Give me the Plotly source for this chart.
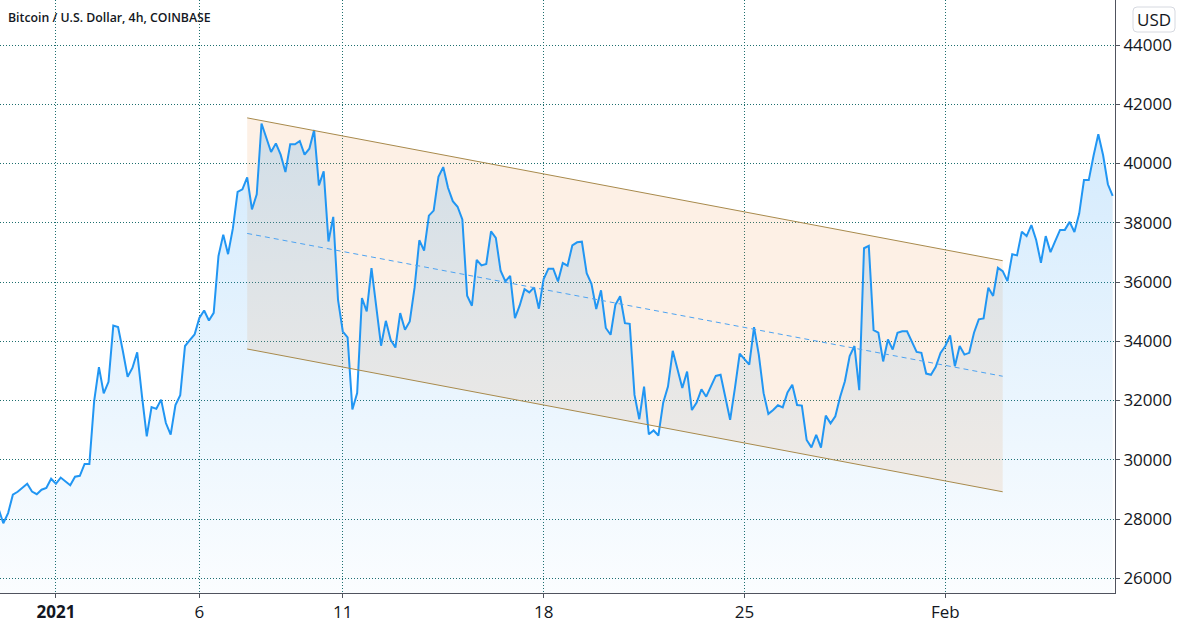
import pandas as pd
import plotly.graph_objects as go

# BTC/USD 4h closes, Coinbase, starting 2020-12-30 00:00 (UTC)
start_time = "2020-12-30 00:00"
close = [
    28350, 27860, 28200, 28820, 28920, 29070, 29190, 28930, 28840, 28990, 29050, 29360,
    29190, 29400, 29260, 29140, 29430, 29460, 29860, 29860, 31980, 33130, 32240, 32630,
    34530, 34480, 33670, 32800, 33100, 33630, 32150, 30790, 31780, 31720, 32030, 31240,
    30850, 31850, 32180, 33840, 34040, 34230, 34790, 35040, 34700, 34960, 36880, 37600,
    36940, 37800, 39040, 39130, 39530, 38450, 38960, 41350, 40870, 40390, 40680, 40300,
    39710, 40650, 40650, 40760, 40300, 40500, 41130, 39260, 39740, 37370, 38200, 35400,
    34330, 34130, 31700, 32250, 35460, 35010, 36470, 35180, 33850, 34690, 34050, 33790,
    34950, 34390, 34670, 35800, 37410, 37060, 38240, 38410, 39550, 39880, 39180, 38730,
    38540, 38110, 35540, 35200, 36750, 36560, 36610, 37710, 37490, 36380, 36020, 36210,
    34780, 35210, 35760, 35650, 35820, 35100, 36100, 36450, 36450, 36020, 36640, 36550,
    37240, 37340, 37360, 36300, 35940, 35090, 35720, 34450, 34220, 35230, 35520, 34610,
    34590, 32190, 31370, 32470, 30860, 30990, 30820, 31930, 32470, 33680, 33090, 32420,
    32980, 31680, 31930, 32380, 32130, 32510, 32830, 32870, 32130, 31350, 32420, 33580,
    33400, 33210, 34480, 33540, 32250, 31550, 31680, 31840, 31770, 32270, 32530, 31850,
    31830, 30670, 30420, 30840, 30410, 31490, 31230, 31470, 32120, 32650, 33500, 33840,
    32350, 37140, 37220, 34380, 34290, 33320, 34060, 33720, 34290, 34340, 34340, 33970,
    33640, 33610, 32910, 32870, 33140, 33610, 33840, 34200, 33160, 33840, 33550, 33610,
    34290, 34740, 34770, 35810, 35530, 36480, 36370, 36030, 36940, 36900, 37700, 37550,
    37920, 37420, 36650, 37550, 37010, 37390, 37760, 37760, 38030, 37690, 38310, 39440,
    39440, 40260, 40990, 40280, 39300, 38910,
]
times = pd.date_range(start_time, periods=len(close), freq="4h")

# parallel channel drawing
channel_x = ["2021-01-07 16:00", "2021-02-03 00:00"]
channel_upper = [41540, 36720]
channel_lower = [33740, 28920]
channel_mid = [37640, 32820]

tick_dates = ["2021-01-01", "2021-01-06", "2021-01-11", "2021-01-18", "2021-01-25", "2021-02-01"]
tick_text = ["<b>2021</b>", "6", "11", "18", "25", "Feb"]
price_ticks = list(range(26000, 44001, 2000))

BLUE = "#2196F3"
GRID = "#1d6e6e"
CHANNEL_LINE = "#a88a4c"
TEXT = "#131722"
FONT = "Open Sans"

fig = go.Figure()

# channel background
fig.add_trace(go.Scatter(
    x=[channel_x[0], channel_x[1], channel_x[1], channel_x[0], channel_x[0]],
    y=[channel_upper[0], channel_upper[1], channel_lower[1], channel_lower[0], channel_upper[0]],
    fill="toself", fillcolor="rgba(240,150,70,0.14)",
    mode="lines", line=dict(width=0), hoverinfo="skip", showlegend=False))

# price area
fig.add_trace(go.Scatter(
    x=times, y=close, mode="lines",
    line=dict(color=BLUE, width=2),
    fill="tozeroy",
    fillgradient=dict(type="vertical", start=25500, stop=41500,
                      colorscale=[[0, "rgba(33,150,243,0.02)"], [1, "rgba(33,150,243,0.2)"]]),
    showlegend=False))

# channel lines
for ys, dash, color in [(channel_upper, "solid", CHANNEL_LINE),
                        (channel_lower, "solid", CHANNEL_LINE),
                        (channel_mid, "5px,4px", "#4da3f2")]:
    fig.add_trace(go.Scatter(x=channel_x, y=ys, mode="lines",
                             line=dict(color=color, width=1, dash=dash),
                             hoverinfo="skip", showlegend=False))

W_PLOT = 1115
H_PLOT = 593


def px_x(p):
    return p / W_PLOT


def px_y(p):
    return (H_PLOT - p) / H_PLOT


# "USD" box with rounded corners
x0, x1, y0, y1, r = 1133, 1175, 7, 32, 4
path = (f"M {px_x(x0 + r)} {px_y(y0)} L {px_x(x1 - r)} {px_y(y0)} "
        f"Q {px_x(x1)} {px_y(y0)} {px_x(x1)} {px_y(y0 + r)} L {px_x(x1)} {px_y(y1 - r)} "
        f"Q {px_x(x1)} {px_y(y1)} {px_x(x1 - r)} {px_y(y1)} L {px_x(x0 + r)} {px_y(y1)} "
        f"Q {px_x(x0)} {px_y(y1)} {px_x(x0)} {px_y(y1 - r)} L {px_x(x0)} {px_y(y0 + r)} "
        f"Q {px_x(x0)} {px_y(y0)} {px_x(x0 + r)} {px_y(y0)} Z")
fig.add_shape(type="path", xref="paper", yref="paper", path=path,
              line=dict(color="#d6d9e0", width=1), fillcolor="white")
fig.add_annotation(xref="paper", yref="paper", x=px_x((x0 + x1) / 2), y=px_y((y0 + y1) / 2),
                   text="USD", showarrow=False, xanchor="center", yanchor="middle",
                   font=dict(family=FONT, size=17, color=TEXT))

fig.add_annotation(xref="paper", yref="paper", x=px_x(6), y=px_y(7),
                   text="Bitcoin / U.S. Dollar, 4h, COINBASE", showarrow=False,
                   xanchor="left", yanchor="top",
                   font=dict(family=FONT, size=12.3, color=TEXT, weight=600))

fig.update_xaxes(
    type="date", range=["2020-12-30 01:14", "2021-02-06 21:57"],
    tickvals=tick_dates, ticktext=tick_text,
    showgrid=True, gridcolor=GRID, griddash="1px,2px", gridwidth=1,
    showline=True, linecolor="#50535e", linewidth=1,
    ticks="outside", ticklen=4, tickcolor="#50535e",
    tickfont=dict(family=FONT, size=17, color=TEXT),
    zeroline=False, fixedrange=True)

fig.update_yaxes(
    side="right", range=[25504, 45519],
    tickvals=price_ticks, ticktext=[str(v) for v in price_ticks],
    showgrid=True, gridcolor=GRID, griddash="1px,2px", gridwidth=1,
    showline=True, linecolor="#50535e", linewidth=1,
    ticks="outside", ticklen=4, tickcolor="#50535e",
    tickfont=dict(family=FONT, size=17, color=TEXT),
    zeroline=False, fixedrange=True)

fig.update_layout(
    width=1192, height=634,
    margin=dict(l=0, r=1192 - W_PLOT, t=0, b=634 - H_PLOT),
    paper_bgcolor="white", plot_bgcolor="white",
    showlegend=False, hovermode=False,
)

# drop the browser's default page margin so the chart sits at the window corner
fig.write_html("out.html", config={"displayModeBar": False},
               post_script="document.body.style.margin='0';")
